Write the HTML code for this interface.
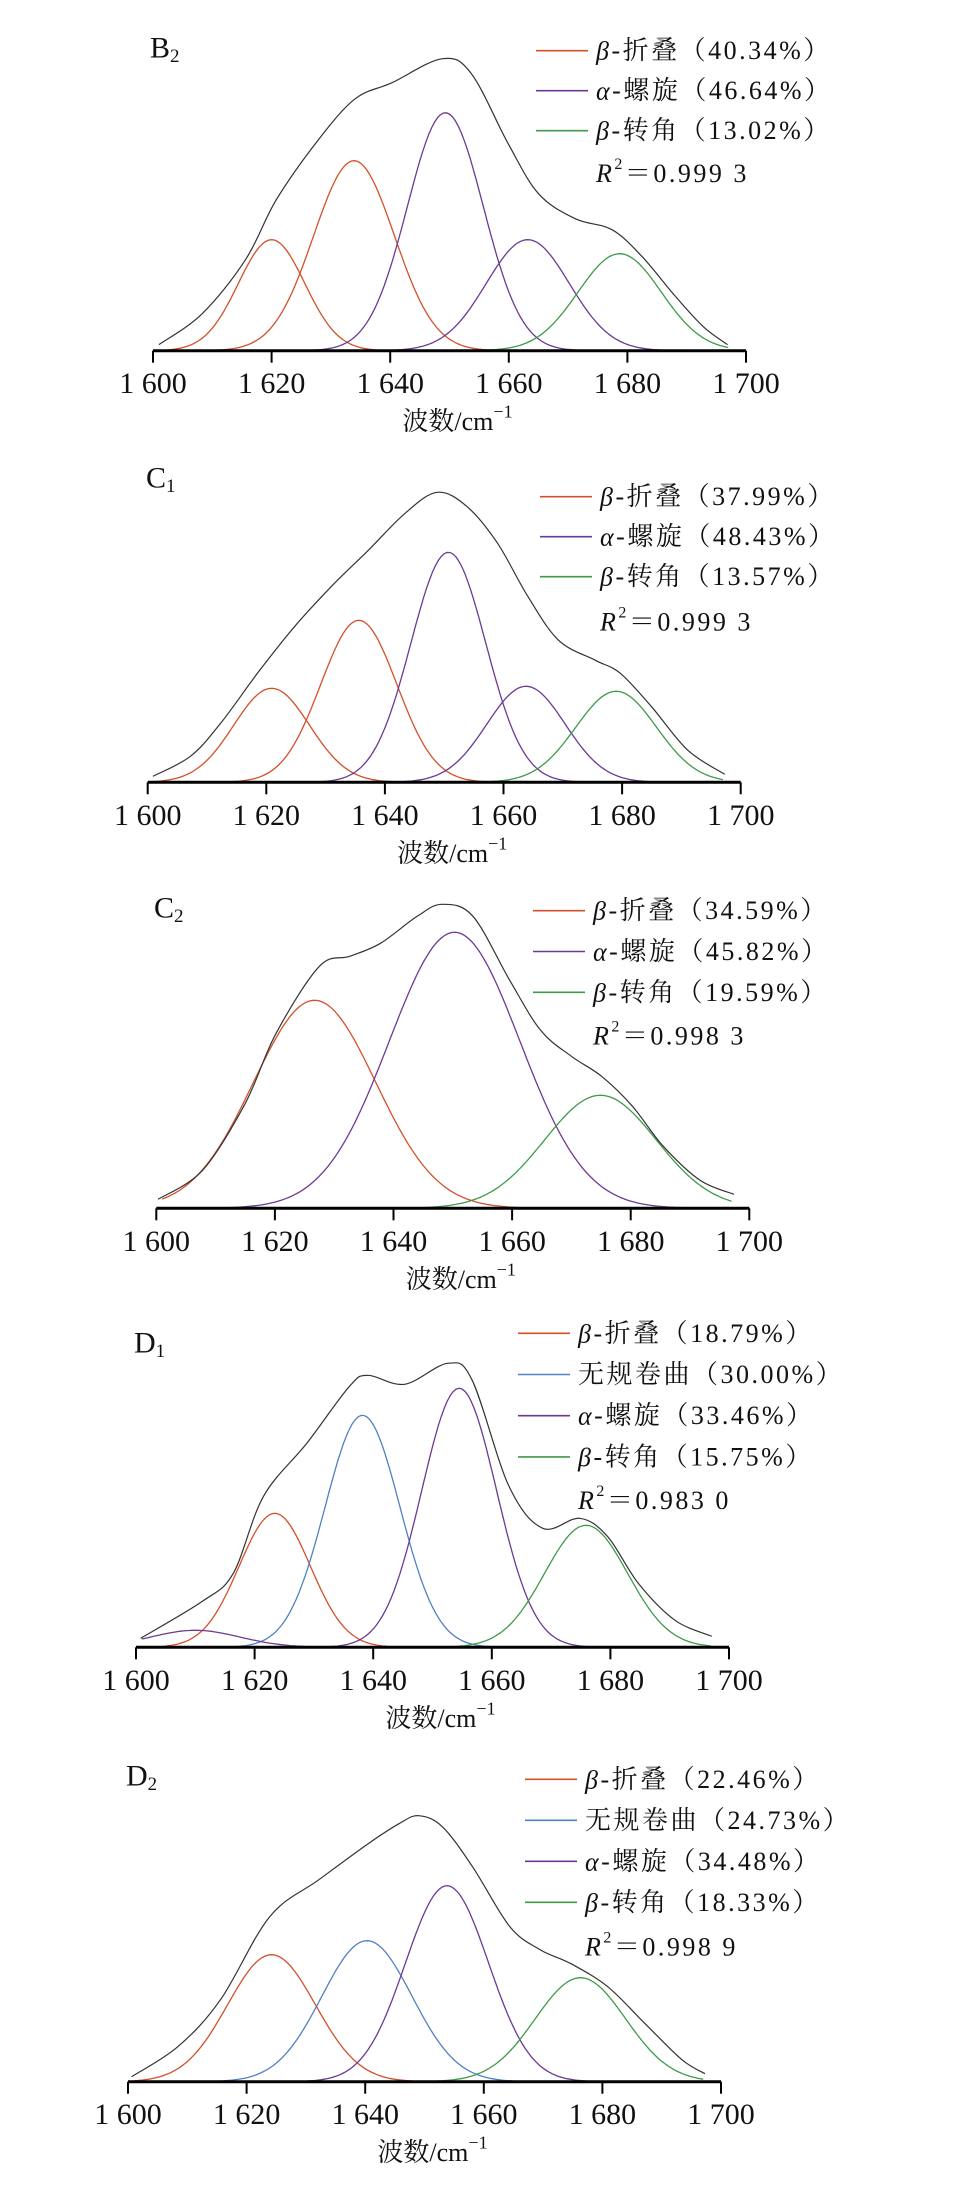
<!DOCTYPE html>
<html><head><meta charset="utf-8">
<style>
html,body{margin:0;padding:0;background:#fff;}
svg{display:block;}
text{font-family:"Liberation Serif","Noto Serif CJK SC",serif;fill:#111;}
.leg{font-size:26px;letter-spacing:2.5px;}
.tick{font-size:30px;}
.ttl{font-size:26px;}
.plab{font-size:30px;}
</style></head>
<body>
<svg id="fig" width="956" height="2193" viewBox="0 0 956 2193" xmlns="http://www.w3.org/2000/svg"></svg>
<script>
// ---- data: component peaks (center cm-1, height, sigma) and measured spectra ----
const b2Centers=[1620.0,1633.9,1649.3,1663.2,1678.7];
const b2Heights=[111,190,238,111,97];
const b2Sigmas=[5.6,6.8,6.4,7.0,7.0];
const b2Types=["sheet","sheet","helix","helix","turn"];
const b2SpecX=[1601,1608.3,1615.6,1620.8,1627.9,1634.1,1640.3,1648.8,1653.7,1659.9,1665,1671.2,1677.4,1682.5,1687.7,1692.8,1696.9];
const b2SpecY=[6,37,91,151,211,252,268,292,277,207,157,132,121,94,57,24,6];

const c1Centers=[1620.9,1635.6,1650.7,1663.8,1679.0];
const c1Heights=[94,162,230,96,91];
const c1Sigmas=[6.4,6.4,6.3,6.6,6.8];
const c1Types=["sheet","sheet","helix","helix","turn"];
const c1SpecX=[1600.9,1607.2,1612.3,1618.5,1624.8,1631,1637.2,1643.4,1648.8,1653.8,1659,1664.1,1669.3,1675.5,1679.7,1684.9,1691.1,1697.3];
const c1SpecY=[6,26,59,109,156,196,232,269,290,276,239,186,142,122,109,76,32,8];

const c2Centers=[1626.7,1650.3,1674.9];
const c2Heights=[208,276,113];
const c2Sigmas=[10.3,11.0,9.4];
const c2Types=["sheet","helix","turn"];
const c2SpecX=[1600.3,1607.8,1615,1620.2,1627.5,1632.6,1637.8,1644,1648.2,1653.4,1659.6,1664.8,1670,1675.1,1680.3,1685.5,1691.7,1697.4];
const c2SpecY=[9,38,105,175,242,252,265,292,304,292,228,178,152,132,102,62,28,14];

const d1Centers=[1623.4,1638.2,1654.5,1610,1675.9];
const d1Heights=[134,232,259,17,122];
const d1Sigmas=[6.0,6.3,6.3,7.5,7.0];
const d1Types=["sheet","coil","helix","helix","turn"];
const d1SpecX=[1600.8,1611.2,1616.4,1621.5,1628.8,1636,1639.1,1645.3,1652.6,1656.7,1662.9,1668.6,1674.8,1679.5,1684.7,1690.9,1697.1];
const d1SpecY=[9,46,74,151,204,261,272,263,284,267,161,119,129,111,64,27,11];

const d2Centers=[1624.2,1640.3,1653.8,1676.3];
const d2Heights=[127,141,196,104];
const d2Sigmas=[7.4,7.6,7.0,7.6];
const d2Types=["sheet","coil","helix","turn"];
const d2SpecX=[1600.6,1608.4,1615.6,1623.9,1632.2,1640.5,1645.7,1649,1653,1658.1,1664.4,1669.5,1674.7,1680.9,1687.2,1693.4,1697.3];
const d2SpecY=[5,35,82,165,202,238,258,266,255,215,155,132,118,95,58,22,8];

const tickValues=[1600,1620,1640,1660,1680,1700];
const tickLabels=["1 600","1 620","1 640","1 660","1 680","1 700"];

const colors={sheet:"#d4502a",helix:"#6b3a94",turn:"#3f9a4a",coil:"#4f82c0"};
const NS="http://www.w3.org/2000/svg";
const svg=document.getElementById("fig");

function mk(tag,attrs,parent){const e=document.createElementNS(NS,tag);for(const k in attrs)e.setAttribute(k,attrs[k]);(parent||svg).appendChild(e);return e;}

function smoothPath(pts){
  let d="M"+pts[0][0].toFixed(1)+","+pts[0][1].toFixed(1);
  for(let i=0;i<pts.length-1;i++){
    const p0=pts[i-1]||pts[i],p1=pts[i],p2=pts[i+1],p3=pts[i+2]||p2;
    const c1x=p1[0]+(p2[0]-p0[0])/6,c1y=p1[1]+(p2[1]-p0[1])/6;
    const c2x=p2[0]-(p3[0]-p1[0])/6,c2y=p2[1]-(p3[1]-p1[1])/6;
    d+=" C"+c1x.toFixed(1)+","+c1y.toFixed(1)+" "+c2x.toFixed(1)+","+c2y.toFixed(1)+" "+p2[0].toFixed(1)+","+p2[1].toFixed(1);
  }
  return d;
}

function panel(cfg){
  const g=mk("g",{});
  
  
  const xS=v=>cfg.x0+(v-1600)*5.93;
  const yS=v=>cfg.base-v;
  cfg.centers.forEach((c,i)=>{
    const pts=[];
    for(let w=1601;w<=1697;w+=0.5){
      const h=cfg.heights[i]*Math.exp(-Math.pow(w-c,2)/(2*cfg.sigmas[i]*cfg.sigmas[i]));
      pts.push([xS(w),yS(h)]);
    }
    const p=mk("path",{d:"M"+pts.map(q=>q[0].toFixed(1)+","+q[1].toFixed(1)).join(" L"),fill:"none",stroke:colors[cfg.types[i]],"stroke-width":1.3},g);
    
    
  });
  const sp=cfg.sx.map((w,i)=>[xS(w),yS(cfg.sy[i])]);
  const bl=mk("path",{d:smoothPath(sp),fill:"none",stroke:"#333","stroke-width":1.2},g);
  
  
  const ax=mk("line",{x1:xS(1600),x2:xS(1700),y1:cfg.base,y2:cfg.base,stroke:"#000","stroke-width":3},g);
  
  
  tickValues.forEach((t,i)=>{
    const tk=mk("line",{x1:xS(t),x2:xS(t),y1:cfg.base,y2:cfg.base+12,stroke:"#000","stroke-width":2},g);
    
    
    const tl=mk("text",{x:xS(t),y:cfg.base+33,"text-anchor":"middle","dominant-baseline":"central","class":"tick"},g);
    tl.textContent=tickLabels[i];
    
    
  });
  const at=mk("text",{x:xS(1650)+8,y:cfg.base+71,"text-anchor":"middle","dominant-baseline":"central","class":"ttl"},g);
  at.innerHTML='波数/cm<tspan dy="-10" font-size="18">−1</tspan>';
  
  
  const pl=mk("text",{x:cfg.lx,y:cfg.ly,"dominant-baseline":"central","class":"plab"},g);
  pl.innerHTML=cfg.label[0]+'<tspan dy="8" font-size="19">'+cfg.label[1]+'</tspan>';
  
  
  cfg.legend.forEach((L,i)=>{
    const y=cfg.legY+i*cfg.legStep;
    const ll=mk("line",{x1:cfg.legX,x2:cfg.legX+52,y1:y,y2:y,stroke:colors[L[0]],"stroke-width":1.6},g);
    
    
    const lt=mk("text",{x:cfg.legX+60,y:y,"dominant-baseline":"central","class":"leg"},g);
    lt.innerHTML=L[1];
    
    
  });
  const r=mk("text",{x:cfg.legX+60,y:cfg.rY,"dominant-baseline":"central","class":"leg"},g);
  r.innerHTML='<tspan font-style="italic">R</tspan><tspan dy="-9" font-size="16">2</tspan><tspan dy="9">＝'+cfg.r2+'</tspan>';
  
  
}
const SH=p=>['sheet','<tspan font-style="italic">β</tspan>-折叠（'+p+'）'];
const HE=p=>['helix','<tspan font-style="italic">α</tspan>-螺旋（'+p+'）'];
const TU=p=>['turn','<tspan font-style="italic">β</tspan>-转角（'+p+'）'];
const CO=p=>['coil','无规卷曲（'+p+'）'];

panel({name:"b2",x0:153,base:350.7,centers:b2Centers,heights:b2Heights,sigmas:b2Sigmas,types:b2Types,sx:b2SpecX,sy:b2SpecY,
  label:["B","2"],lx:150,ly:48,legX:536,legY:50.7,legStep:40,rY:173,r2:"0.999 3",
  legend:[SH("40.34%"),HE("46.64%"),TU("13.02%")]});
panel({name:"c1",x0:147.7,base:782.3,centers:c1Centers,heights:c1Heights,sigmas:c1Sigmas,types:c1Types,sx:c1SpecX,sy:c1SpecY,
  label:["C","1"],lx:146,ly:478,legX:540,legY:496.7,legStep:40,rY:621.7,r2:"0.999 3",
  legend:[SH("37.99%"),HE("48.43%"),TU("13.57%")]});
panel({name:"c2",x0:156.3,base:1208.3,centers:c2Centers,heights:c2Heights,sigmas:c2Sigmas,types:c2Types,sx:c2SpecX,sy:c2SpecY,
  label:["C","2"],lx:154,ly:908,legX:533,legY:910.7,legStep:40.8,rY:1035.7,r2:"0.998 3",
  legend:[SH("34.59%"),HE("45.82%"),TU("19.59%")]});
panel({name:"d1",x0:136,base:1647.3,centers:d1Centers,heights:d1Heights,sigmas:d1Sigmas,types:d1Types,sx:d1SpecX,sy:d1SpecY,
  label:["D","1"],lx:134,ly:1343,legX:518,legY:1333.3,legStep:41.2,rY:1500,r2:"0.983 0",
  legend:[SH("18.79%"),CO("30.00%"),HE("33.46%"),TU("15.75%")]});
panel({name:"d2",x0:128,base:2081.7,centers:d2Centers,heights:d2Heights,sigmas:d2Sigmas,types:d2Types,sx:d2SpecX,sy:d2SpecY,
  label:["D","2"],lx:126,ly:1776,legX:525,legY:1779.3,legStep:41,rY:1946.7,r2:"0.998 9",
  legend:[SH("22.46%"),CO("24.73%"),HE("34.48%"),TU("18.33%")]});
</script>
</body></html>
